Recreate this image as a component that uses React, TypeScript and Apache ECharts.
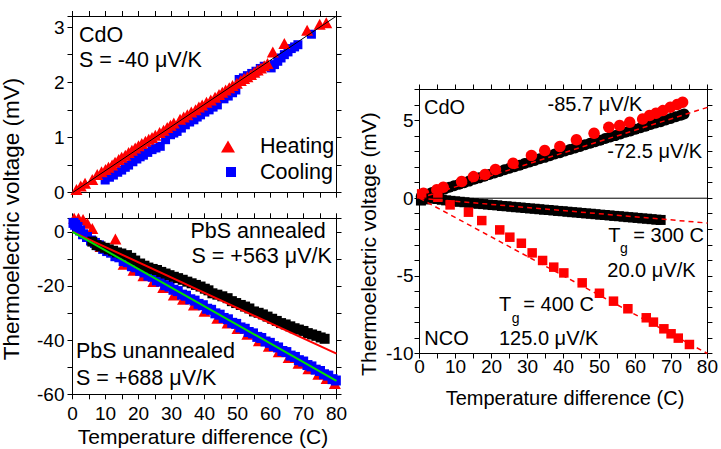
import React, { useEffect, useRef } from "react";
import * as echarts from "echarts";

// ---------- Data ----------
// Top-left: CdO heating / cooling
const heatX = [1.2, 2.5, 3.8, 6.0, 7.5, 8.8, 10.0, 10.9, 12.0, 12.9, 14.0, 14.9, 16.0, 17.0, 18.0, 19.0, 20.0, 21.0, 22.1, 23.1, 24.1, 25.1, 26.4, 27.6, 28.7, 29.7, 30.7, 32.6, 33.7, 34.8, 36.0, 37.3, 38.3, 39.3, 40.6, 41.9, 43.2, 44.4, 45.4, 46.4, 47.5, 48.5, 49.8, 51.0, 52.0, 53.0, 54.1, 55.1, 56.1, 57.1, 58.1, 59.1, 60.7, 64.2, 71.1, 74.9, 76.9];
const heatY = [0.06, 0.12, 0.17, 0.24, 0.33, 0.38, 0.42, 0.46, 0.5, 0.55, 0.6, 0.64, 0.68, 0.73, 0.77, 0.81, 0.85, 0.89, 0.93, 0.97, 1.0, 1.04, 1.09, 1.13, 1.18, 1.22, 1.26, 1.33, 1.37, 1.41, 1.46, 1.5, 1.55, 1.59, 1.64, 1.68, 1.73, 1.78, 1.82, 1.86, 1.9, 1.94, 1.98, 2.03, 2.07, 2.1, 2.14, 2.18, 2.22, 2.26, 2.3, 2.34, 2.55, 2.7, 2.94, 3.05, 3.08];
const coolX = [9.9, 11.2, 12.4, 13.7, 14.9, 16.0, 17.0, 18.3, 19.5, 20.5, 21.5, 22.8, 24.1, 25.3, 26.6, 28.2, 29.7, 30.7, 31.7, 33.0, 34.2, 35.5, 36.8, 37.8, 38.8, 40.1, 41.4, 42.6, 43.9, 45.9, 47.2, 48.5, 49.5, 50.5, 51.8, 53.0, 54.3, 55.6, 56.9, 58.1, 60.2, 61.2, 62.2, 63.2, 64.2, 65.3, 66.3, 67.3, 68.3, 72.4];
const coolY = [0.23, 0.28, 0.32, 0.37, 0.41, 0.46, 0.5, 0.56, 0.61, 0.65, 0.68, 0.73, 0.78, 0.81, 0.84, 0.96, 1.05, 1.08, 1.11, 1.17, 1.23, 1.28, 1.32, 1.37, 1.41, 1.46, 1.5, 1.55, 1.59, 1.7, 1.75, 1.81, 1.86, 2.05, 2.08, 2.12, 2.16, 2.2, 2.25, 2.29, 2.26, 2.32, 2.38, 2.44, 2.5, 2.55, 2.61, 2.64, 2.68, 2.87];
const cdoFitX = [0, 80];
const cdoFitY = [0, 3.2];

// Bottom-left: PbS
const annX = [6.0, 7.3, 8.5, 9.8, 11.0, 12.3, 13.5, 14.8, 16.5, 17.8, 19.0, 20.5, 21.8, 23.0, 24.3, 25.6, 26.9, 28.2, 29.4, 30.7, 32.0, 33.4, 34.8, 36.1, 37.4, 38.8, 40.1, 41.2, 42.4, 43.9, 45.4, 47.0, 48.3, 49.6, 51.0, 52.3, 53.6, 55.0, 56.4, 57.7, 59.1, 60.5, 61.9, 63.2, 64.6, 66.0, 67.3, 68.6, 70.0, 71.3, 72.6, 73.9, 75.2, 76.4];
const annY = [-3.6, -4.9, -5.4, -5.9, -6.5, -7.0, -7.6, -8.0, -8.6, -9.6, -10.6, -11.7, -12.5, -13.2, -13.7, -14.1, -14.8, -15.4, -16.0, -16.6, -17.1, -17.7, -18.4, -19.0, -19.6, -20.2, -21.0, -21.6, -22.7, -23.2, -23.8, -24.5, -25.6, -26.3, -27.0, -27.6, -28.3, -29.4, -29.9, -30.5, -31.3, -32.1, -32.9, -33.7, -34.2, -34.9, -35.6, -36.1, -36.6, -37.4, -37.9, -38.4, -39.0, -39.5];
const unX = [0.3, 0.8, 1.5, 2.3, 3.2, 4.4, 5.6, 6.8, 8.0, 9.3, 10.5, 11.7, 13.0, 14.2, 15.5, 16.8, 18.0, 19.3, 20.5, 21.8, 23.0, 24.3, 25.6, 26.8, 28.1, 29.4, 30.6, 31.9, 33.2, 34.4, 35.7, 37.0, 38.2, 39.5, 40.8, 42.0, 43.3, 44.6, 45.8, 47.1, 48.4, 49.6, 50.9, 52.2, 53.4, 54.7, 56.0, 57.2, 58.5, 59.8, 61.0, 62.3, 63.6, 64.8, 66.1, 67.4, 68.6, 69.9, 71.2, 72.4, 73.7, 75.0, 76.2, 77.5, 78.8, 79.8];
const unY = [3.3, 2.6, 1.8, 0.5, -0.9, -1.9, -3.2, -4.1, -5.0, -6.3, -7.1, -7.7, -9.0, -9.4, -10.8, -11.2, -12.7, -13.1, -14.4, -15.0, -16.2, -16.6, -17.9, -18.4, -19.7, -20.2, -21.4, -21.9, -23.2, -23.6, -24.9, -25.4, -26.6, -27.1, -28.4, -28.8, -30.1, -30.6, -31.8, -32.3, -33.6, -34.0, -35.3, -35.8, -37.0, -37.5, -38.8, -39.2, -40.5, -41.0, -42.2, -42.7, -44.0, -44.4, -45.7, -46.2, -47.4, -47.9, -49.2, -49.7, -50.9, -51.4, -52.6, -53.1, -54.4, -54.9];
const unTriX = [0.5, 1.8, 3.2, 4.5, 6.0, 8.5, 13.0, 15.5, 18.5, 21.5, 24.5, 27.5, 30.7, 33.5, 36.8, 40.0, 43.9, 47.0, 50.0, 53.0, 56.5, 59.5, 62.5, 65.5, 68.5, 71.5, 74.5, 77.0, 79.5];
const unTriY = [5.0, 5.0, 4.6, 3.2, 1.2, -5.4, -2.6, -12.0, -14.2, -16.2, -18.3, -20.6, -23.3, -24.9, -27.0, -29.3, -31.9, -33.7, -35.7, -37.8, -40.2, -42.3, -44.3, -46.4, -48.5, -50.6, -52.6, -54.2, -56.0];
const annFitX = [0, 80];
const annFitY = [0, -45];
const unFitX = [0, 80];
const unFitY = [0, -55];

// Right: CdO / NCO
const cdoRedX = [1.1, 4.8, 6.6, 11.7, 15.0, 18.2, 21.1, 26.0, 31.1, 34.8, 39.0, 43.6, 48.5, 52.6, 55.6, 58.4, 62.0, 63.9, 65.7, 67.6, 69.7, 71.6, 73.1];
const cdoRedY = [0.32, 0.54, 0.7, 1.07, 1.39, 1.52, 1.85, 2.25, 2.75, 3.07, 3.33, 3.76, 4.18, 4.57, 4.68, 4.89, 5.1, 5.32, 5.47, 5.64, 5.86, 6.03, 6.18];
const cdoBlkX = [0.5, 1.5, 2.5, 3.5, 4.6, 5.8, 7.0, 8.3, 9.6, 11.0, 12.4, 13.8, 15.2, 16.6, 18.0, 19.4, 20.8, 22.2, 23.6, 25.0, 26.4, 27.8, 29.2, 30.6, 32.0, 33.4, 34.8, 36.2, 37.6, 39.0, 40.4, 41.8, 43.2, 44.6, 46.0, 47.4, 48.8, 50.2, 51.6, 53.0, 54.4, 55.8, 57.2, 58.6, 60.0, 61.4, 62.8, 64.2, 65.6, 67.0, 68.4, 69.8, 71.2, 72.6, 73.5];
const cdoBlkY = [0.12, 0.2, 0.27, 0.36, 0.43, 0.52, 0.6, 0.7, 0.8, 0.9, 1.0, 1.1, 1.22, 1.31, 1.42, 1.52, 1.62, 1.72, 1.83, 1.93, 2.03, 2.12, 2.24, 2.33, 2.43, 2.54, 2.63, 2.74, 2.84, 2.93, 3.04, 3.14, 3.24, 3.33, 3.44, 3.54, 3.64, 3.74, 3.84, 3.94, 4.03, 4.14, 4.24, 4.33, 4.44, 4.54, 4.63, 4.74, 4.84, 4.93, 5.04, 5.13, 5.24, 5.34, 5.42];
const nco300X = [0.4, 1.5, 2.6, 3.8, 5.0, 6.2, 7.4, 8.6, 9.9, 11.2, 12.5, 13.8, 15.1, 16.4, 17.7, 19.0, 20.3, 21.6, 22.9, 24.2, 25.5, 26.8, 28.1, 29.4, 30.7, 32.0, 33.3, 34.6, 35.9, 37.2, 38.5, 39.8, 41.1, 42.4, 43.7, 45.0, 46.3, 47.6, 48.9, 50.2, 51.5, 52.8, 54.1, 55.4, 56.7, 58.0, 59.3, 60.6, 61.9, 63.2, 64.5, 65.8, 67.0];
const nco300Y = [-0.15, -0.08, -0.02, 0.0, -0.05, -0.1, -0.14, -0.17, -0.2, -0.23, -0.26, -0.3, -0.32, -0.36, -0.38, -0.41, -0.44, -0.46, -0.5, -0.52, -0.55, -0.58, -0.6, -0.63, -0.66, -0.68, -0.71, -0.74, -0.76, -0.79, -0.82, -0.84, -0.87, -0.9, -0.92, -0.95, -0.98, -1.0, -1.03, -1.06, -1.08, -1.11, -1.14, -1.16, -1.19, -1.22, -1.24, -1.27, -1.3, -1.32, -1.35, -1.38, -1.4];
const nco400X = [0.6, 5.1, 8.5, 13.6, 17.3, 22.3, 25.1, 28.3, 31.3, 34.2, 37.3, 40.1, 45.2, 50.0, 53.9, 57.9, 63.0, 65.0, 67.9, 69.9, 71.9, 75.0];
const nco400Y = [0.28, 0.06, -0.43, -0.9, -1.44, -2.04, -2.51, -2.9, -3.52, -4.01, -4.44, -4.81, -5.45, -6.12, -6.63, -7.12, -7.7, -7.98, -8.41, -8.73, -9.01, -9.42];
const fitCdoX = [0, 80];
const fitCdoY = [0, 5.85];
const fit300X = [0, 80];
const fit300Y = [0, -1.6];
const fit400X = [0, 80];
const fit400Y = [0, -10];
const zeroX = [0, 80];
const zeroY = [0, 0];

// Tick settings
const xTickLabels = [0, 10, 20, 30, 40, 50, 60, 70, 80];

const FONT = "'Liberation Sans', Arial, Helvetica, sans-serif";
const zip = (xs: number[], ys: number[]) => xs.map((x, i) => [x, ys[i]]);

function App() {
  const ref = useRef<HTMLDivElement>(null);
  useEffect(() => {
    if (!ref.current) return;
    const chart = echarts.init(ref.current, undefined, { renderer: "svg" });

    const near = (v: number, m: number) => Math.abs(v / m - Math.round(v / m)) < 1e-6;

    const makeAxis = (
      kind: "x" | "y",
      gridIndex: number,
      position: string,
      min: number,
      max: number,
      interval: number,
      labelEvery: number | null,
      margin: number
    ) => ({
      type: "value",
      gridIndex,
      position,
      min,
      max,
      interval,
      axisLine: { show: true, onZero: false, lineStyle: { color: "#000", width: 1 } },
      axisTick: { show: true, inside: false, length: 5, lineStyle: { color: "#000", width: 1 } },
      axisLabel: {
        show: labelEvery !== null,
        margin,
        color: "#000",
        fontSize: 19,
        fontFamily: FONT,
        formatter: (v: number) =>
          labelEvery !== null && near(v, labelEvery) && (kind === "y" || xTickLabels.includes(Math.round(v)))
            ? String(Math.round(v))
            : "",
      },
      splitLine: { show: false },
    });

    const xAxis = [
      makeAxis("x", 0, "bottom", 0, 80, 5, null, 10),
      makeAxis("x", 0, "top", 0, 80, 5, null, 10),
      makeAxis("x", 1, "bottom", 0, 80, 5, 10, 10),
      makeAxis("x", 1, "top", 0, 80, 5, null, 10),
      makeAxis("x", 2, "bottom", 0, 80, 5, 10, 3),
      makeAxis("x", 2, "top", 0, 80, 5, null, 3),
    ];
    const yAxis = [
      makeAxis("y", 0, "left", 0, 3.2, 0.5, 1, 8),
      makeAxis("y", 0, "right", 0, 3.2, 0.5, null, 8),
      makeAxis("y", 1, "left", -60, 5, 10, 20, 8),
      makeAxis("y", 1, "right", -60, 5, 10, null, 8),
      makeAxis("y", 2, "left", -10, 7, 1, 5, 6),
      makeAxis("y", 2, "right", -10, 7, 1, null, 6),
    ];

    const scatter = (name: string, g: number, data: number[][], symbol: string, size: any, color: string) => ({
      name,
      type: "scatter",
      xAxisIndex: g * 2,
      yAxisIndex: g * 2,
      data,
      symbol,
      symbolSize: size,
      itemStyle: { color, opacity: 1 },
      emphasis: { disabled: true },
      silent: true,
    });
    const line = (name: string, g: number, data: number[][], color: string, width: number, dashed: boolean) => ({
      name,
      type: "line",
      xAxisIndex: g * 2,
      yAxisIndex: g * 2,
      data,
      symbol: "none",
      lineStyle: { color, width, type: dashed ? [5, 4] : "solid" },
      silent: true,
      z: 5,
    });

    const txt = (text: string, x: number, y: number, size = 20, align = "left") => ({
      type: "text",
      x,
      y,
      z: 100,
      style: { text, fontSize: size, fontFamily: FONT, fill: "#000", align, verticalAlign: "middle" },
    });

    const option: any = {
      animation: false,
      backgroundColor: "#fff",
      grid: [
        { left: 72.5, top: 16, width: 264, height: 176.7 },
        { left: 72.5, top: 218.3, width: 264, height: 176 },
        { left: 419.5, top: 89.5, width: 289, height: 264 },
      ],
      xAxis,
      yAxis,
      legend: [
        {
          data: [{ name: "Heating", icon: "triangle" }],
          left: 216,
          top: 130.4,
          itemWidth: 14,
          itemHeight: 12,
          selectedMode: false,
          textStyle: { fontSize: 21.5, fontFamily: FONT, color: "#000", lineHeight: 22, padding: [0, 0, 0, 20] },
        },
        {
          data: [{ name: "Cooling", icon: "rect" }],
          left: 221,
          top: 156,
          itemWidth: 10,
          itemHeight: 10,
          selectedMode: false,
          textStyle: { fontSize: 21.5, fontFamily: FONT, color: "#000", lineHeight: 22, padding: [0, 0, 0, 19] },
        },
      ],
      series: [
        scatter("Cooling", 0, zip(coolX, coolY), "rect", 9, "#0000ff"),
        scatter("Heating", 0, zip(heatX, heatY), "triangle", [12, 11], "#ff0000"),
        line("CdO fit", 0, zip(cdoFitX, cdoFitY), "#000", 1, false),

        scatter("PbS unannealed (triangles)", 1, zip(unTriX, unTriY), "triangle", [12, 11], "#ff0000"),
        scatter("PbS unannealed", 1, zip(unX, unY), "rect", 10, "#0000ff"),
        scatter("PbS annealed", 1, zip(annX, annY), "rect", 10, "#000000"),
        line("PbS annealed fit", 1, zip(annFitX, annFitY), "#ff0000", 2, false),
        line("PbS unannealed fit", 1, zip(unFitX, unFitY), "#00e000", 2, false),

        line("zero", 2, zip(zeroX, zeroY), "#000", 1, false),
        scatter("CdO -72.5", 2, zip(cdoBlkX, cdoBlkY), "circle", 11, "#000000"),
        scatter("CdO -85.7", 2, zip(cdoRedX, cdoRedY), "circle", 11.5, "#ff0000"),
        scatter("NCO Tg 300 C", 2, zip(nco300X, nco300Y), "rect", 10, "#000000"),
        scatter("NCO Tg 400 C", 2, zip(nco400X, nco400Y), "rect", 9.5, "#ff0000"),
        line("fit CdO", 2, zip(fitCdoX, fitCdoY), "#ff0000", 1.5, true),
        line("fit 300", 2, zip(fit300X, fit300Y), "#ff0000", 1.5, true),
        line("fit 400", 2, zip(fit400X, fit400Y), "#ff0000", 1.5, true),
      ],
      graphic: [
        // axis titles
        {
          type: "text",
          x: 11.5,
          y: 219,
          rotation: Math.PI / 2,
          z: 100,
          style: { text: "Thermoelectric voltage (mV)", fontSize: 22.5, fontFamily: FONT, fill: "#000", align: "center", verticalAlign: "middle" },
        },
        {
          type: "text",
          x: 368,
          y: 244,
          rotation: Math.PI / 2,
          z: 100,
          style: { text: "Thermoelectric voltage (mV)", fontSize: 21, fontFamily: FONT, fill: "#000", align: "center", verticalAlign: "middle" },
        },
        txt("Temperature difference (C)", 203, 436.5, 21, "center"),
        txt("Temperature difference (C)", 565, 397.5, 20, "center"),
        // top-left
        txt("CdO", 79, 35, 21.5),
        txt("S = -40 μV/K", 79, 60, 21.5),
        // bottom-left
        txt("PbS annealed", 190.5, 231.3, 21.5),
        txt("S = +563 μV/K", 191.5, 256, 21.5),
        txt("PbS unannealed", 76, 351.3, 21.5),
        txt("S = +688 μV/K", 76, 377.5, 21.5),
        // right
        txt("CdO", 424, 107),
        txt("-85.7 μV/K", 547.5, 103.7),
        txt("-72.5 μV/K", 607.3, 151),
        txt("T", 608.3, 235),
        txt("g", 620, 248, 14),
        txt("= 300 C", 633.3, 235),
        txt("20.0 μV/K", 607.3, 269.7),
        txt("T", 499, 304),
        txt("g", 511.7, 317.5, 14),
        txt("= 400 C", 523.3, 304),
        txt("125.0 μV/K", 499, 338.3),
        txt("NCO", 424.3, 338.3),
      ],
    };
    chart.setOption(option);
    return () => chart.dispose();
  }, []);
  return <div ref={ref} style={{ position: "fixed", left: 0, top: 0, width: 721, height: 449 }} />;
}

export default App;
